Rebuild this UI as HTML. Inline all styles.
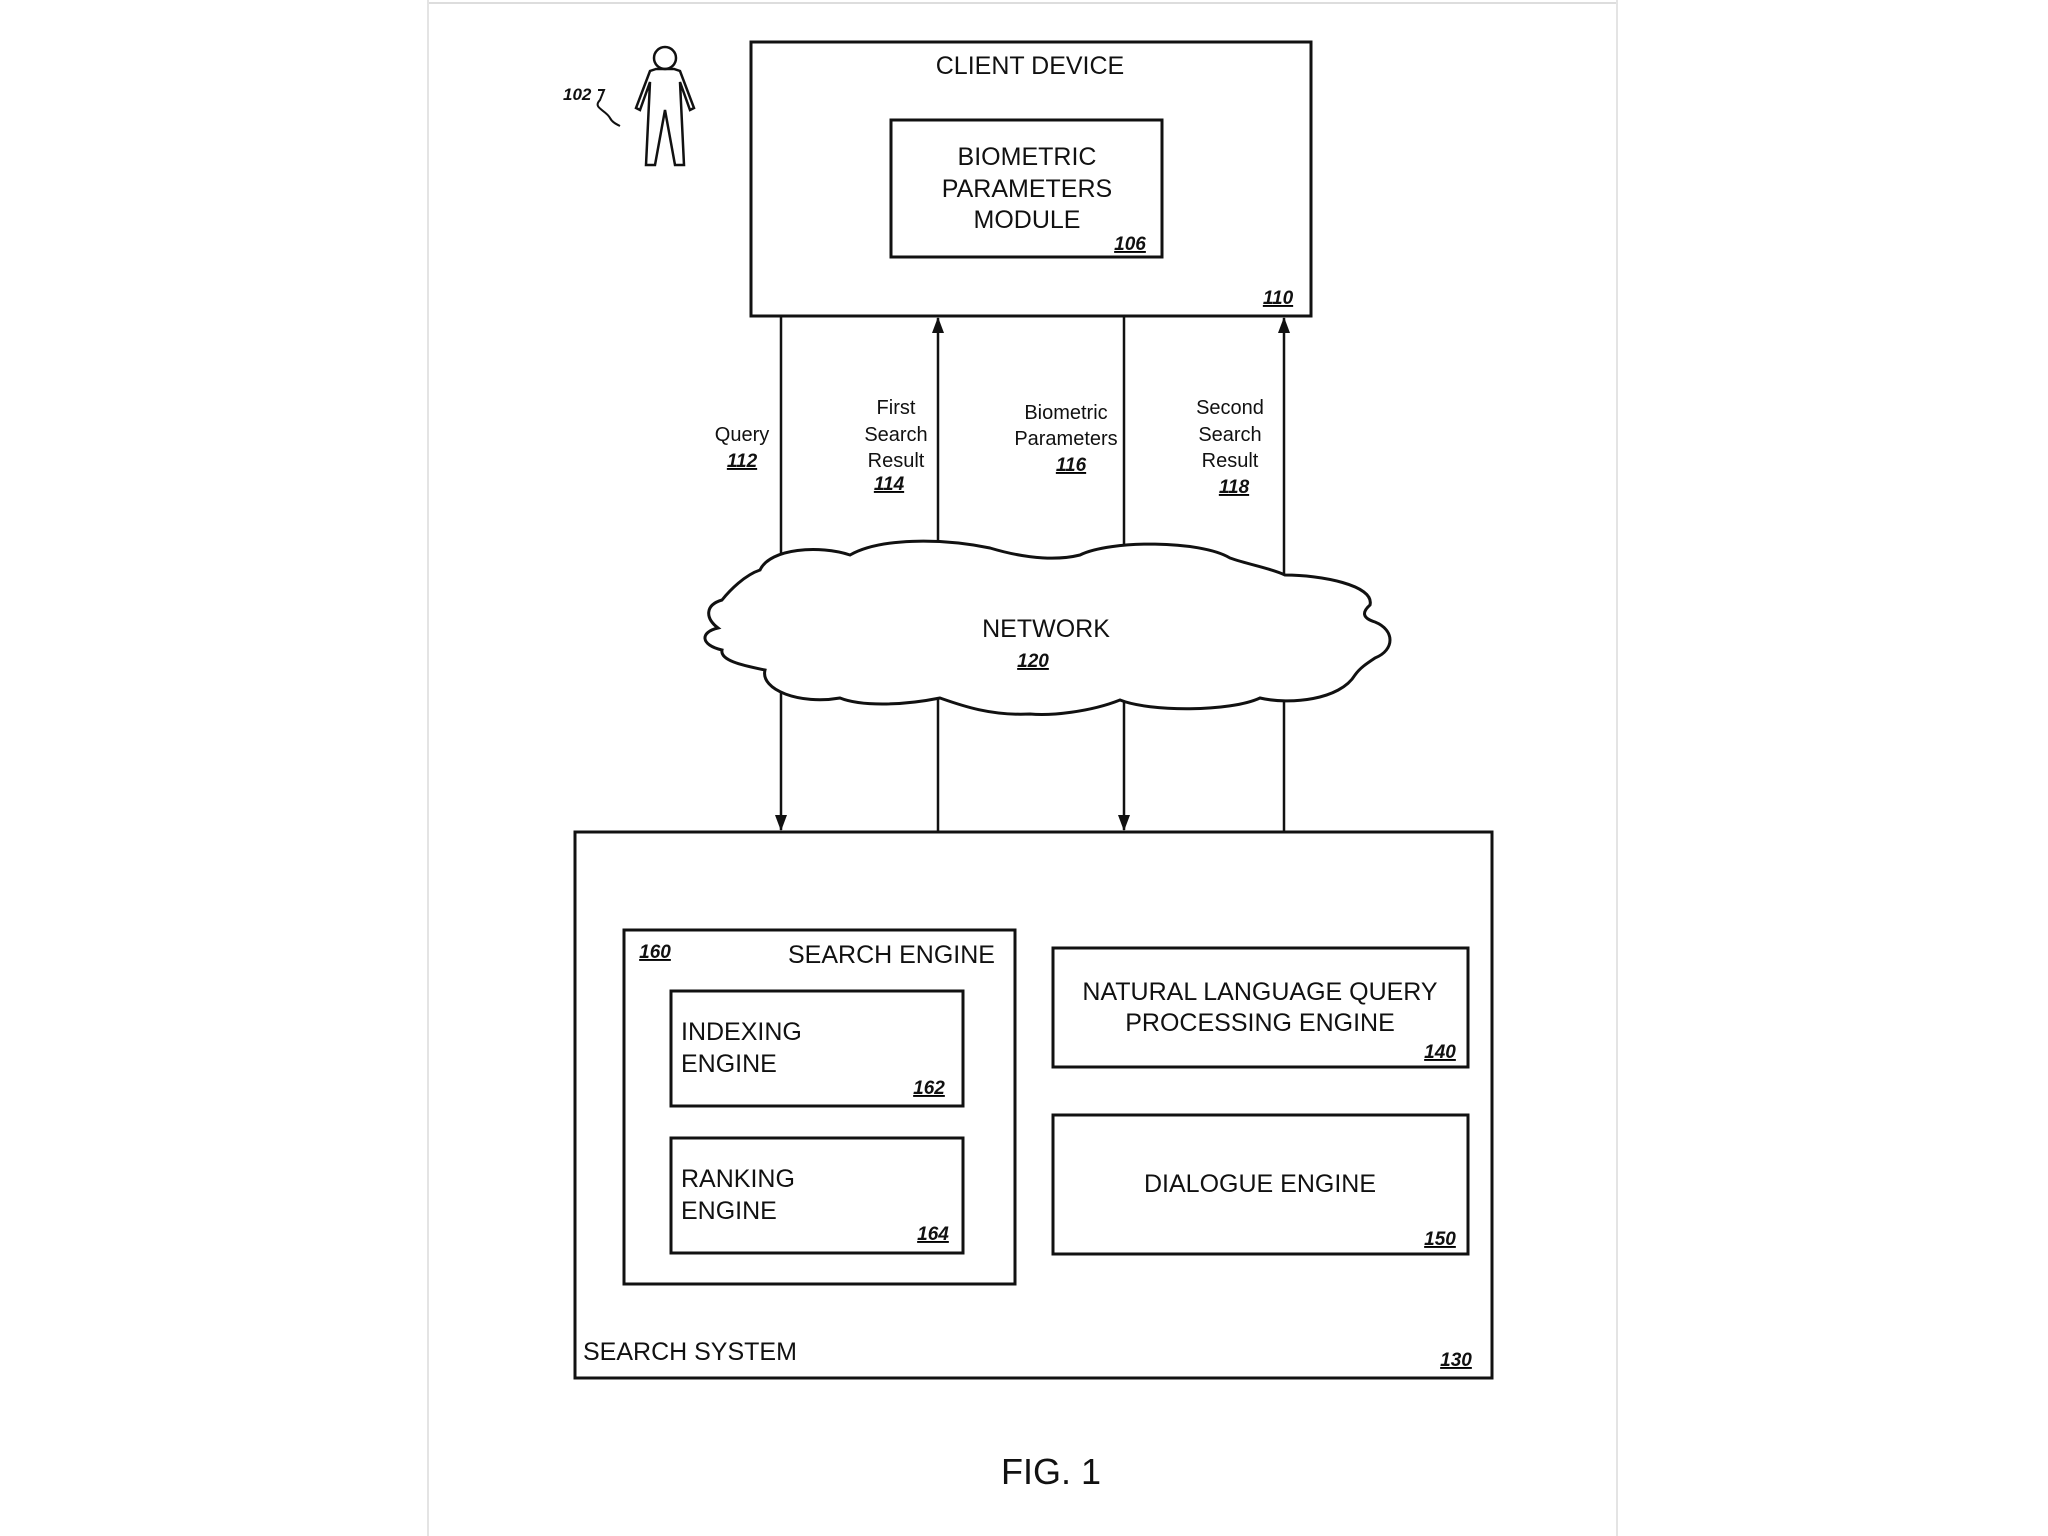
<!DOCTYPE html>
<html><head><meta charset="utf-8"><style>
html,body{margin:0;padding:0;background:#fff;}
svg{display:block;}
text{font-family:"Liberation Sans",Arial,sans-serif;fill:#111;}
.b{font-size:25px;}
.s{font-size:20px;}
.n{font-size:19px;font-style:italic;font-weight:bold;text-decoration:underline;}
</style></head><body>
<svg width="2048" height="1536" viewBox="0 0 2048 1536" xmlns="http://www.w3.org/2000/svg">
<rect width="2048" height="1536" fill="#fff"/>
<line x1="428" y1="3" x2="1617" y2="3" stroke="#ddd" stroke-width="2"/>
<line x1="428" y1="0" x2="428" y2="1536" stroke="#e4e4e4" stroke-width="2"/>
<line x1="1617" y1="0" x2="1617" y2="1536" stroke="#e4e4e4" stroke-width="2"/>
<defs><marker id="a" markerWidth="10" markerHeight="12" refX="9" refY="6" orient="auto" markerUnits="userSpaceOnUse"><path d="M0,0 L10,6 L0,12 Z" fill="#111"/></marker>
<marker id="a2" markerWidth="16" markerHeight="12" refX="15" refY="6" orient="auto" markerUnits="userSpaceOnUse"><path d="M0,0 L16,6 L0,12 Z" fill="#111"/></marker></defs>
<g stroke="#111" stroke-width="3" fill="none">
<rect x="751" y="42" width="560" height="274"/>
<rect x="891" y="120" width="271" height="137"/>
<rect x="575" y="832" width="917" height="546"/>
<rect x="624" y="930" width="391" height="354"/>
<rect x="671" y="991" width="292" height="115"/>
<rect x="671" y="1138" width="292" height="115"/>
<rect x="1053" y="948" width="415" height="119"/>
<rect x="1053" y="1115" width="415" height="139"/>
</g>
<g stroke="#111" stroke-width="2.5">
<line x1="781" y1="316" x2="781" y2="830" marker-end="url(#a2)"/>
<line x1="938" y1="831" x2="938" y2="318" marker-end="url(#a2)"/>
<line x1="1124" y1="316" x2="1124" y2="830" marker-end="url(#a2)"/>
<line x1="1284" y1="831" x2="1284" y2="318" marker-end="url(#a2)"/>
</g>
<path d="M760,570 C770,548 820,545 850,555 C880,538 940,538 990,548 C1030,560 1060,560 1080,555 C1110,540 1200,540 1230,558 C1250,565 1270,568 1285,575 C1320,575 1375,585 1370,605 C1362,612 1362,618 1375,622 C1395,630 1395,650 1375,658 C1366,664 1360,668 1355,675 C1340,700 1290,705 1260,698 C1230,712 1150,712 1120,700 C1090,712 1050,716 1030,714 C990,716 960,705 940,698 C900,706 860,706 840,698 C800,705 760,690 765,670 C740,665 720,660 722,650 C700,645 700,632 718,628 C705,618 705,605 722,600 C730,590 745,575 760,570 Z" fill="#fff" stroke="#111" stroke-width="3"/>
<!-- person -->
<g stroke="#111" stroke-width="2.5" fill="none">
<circle cx="665" cy="58" r="11"/>
<path d="M656,69 L650,71 L636,108 L640,110 L650,82 L646,165 L655,165 L665,110 L675,165 L684,165 L680,82 L690,110 L694,108 L680,71 L674,69 Z"/>
<path d="M598,90 L604,90 L600,100 C592,108 606,110 610,118 C612,122 616,124 620,126" stroke-width="2"/>
</g>
<text x="563" y="100" class="s" style="font-size:17px;font-style:italic;font-weight:bold">102</text>
<g class="b" text-anchor="middle">
<text x="1030" y="74">CLIENT DEVICE</text>
<text x="1027" y="165">BIOMETRIC</text>
<text x="1027" y="197">PARAMETERS</text>
<text x="1027" y="228">MODULE</text>
<text x="1046" y="637">NETWORK</text>
<text x="1260" y="1000">NATURAL LANGUAGE QUERY</text>
<text x="1260" y="1031">PROCESSING ENGINE</text>
<text x="1260" y="1192">DIALOGUE ENGINE</text>
<text x="1051" y="1484" style="font-size:36px">FIG. 1</text>
</g>
<g class="b">
<text x="788" y="963">SEARCH ENGINE</text>
<text x="681" y="1040">INDEXING</text>
<text x="681" y="1072">ENGINE</text>
<text x="681" y="1187">RANKING</text>
<text x="681" y="1219">ENGINE</text>
<text x="583" y="1360">SEARCH SYSTEM</text>
</g>
<g class="s" text-anchor="middle">
<text x="742" y="441">Query</text>
<text x="896" y="414">First</text>
<text x="896" y="441">Search</text>
<text x="896" y="467">Result</text>
<text x="1066" y="419">Biometric</text>
<text x="1066" y="445">Parameters</text>
<text x="1230" y="414">Second</text>
<text x="1230" y="441">Search</text>
<text x="1230" y="467">Result</text>
</g>
<g class="n" text-anchor="middle">
<text x="742" y="467">112</text>
<text x="889" y="490">114</text>
<text x="1071" y="471">116</text>
<text x="1234" y="493">118</text>
<text x="1033" y="667">120</text>
<text x="1130" y="250">106</text>
<text x="1278" y="304">110</text>
<text x="655" y="958">160</text>
<text x="929" y="1094">162</text>
<text x="933" y="1240">164</text>
<text x="1440" y="1058">140</text>
<text x="1440" y="1245">150</text>
<text x="1456" y="1366">130</text>
</g>
</svg>
</body></html>
